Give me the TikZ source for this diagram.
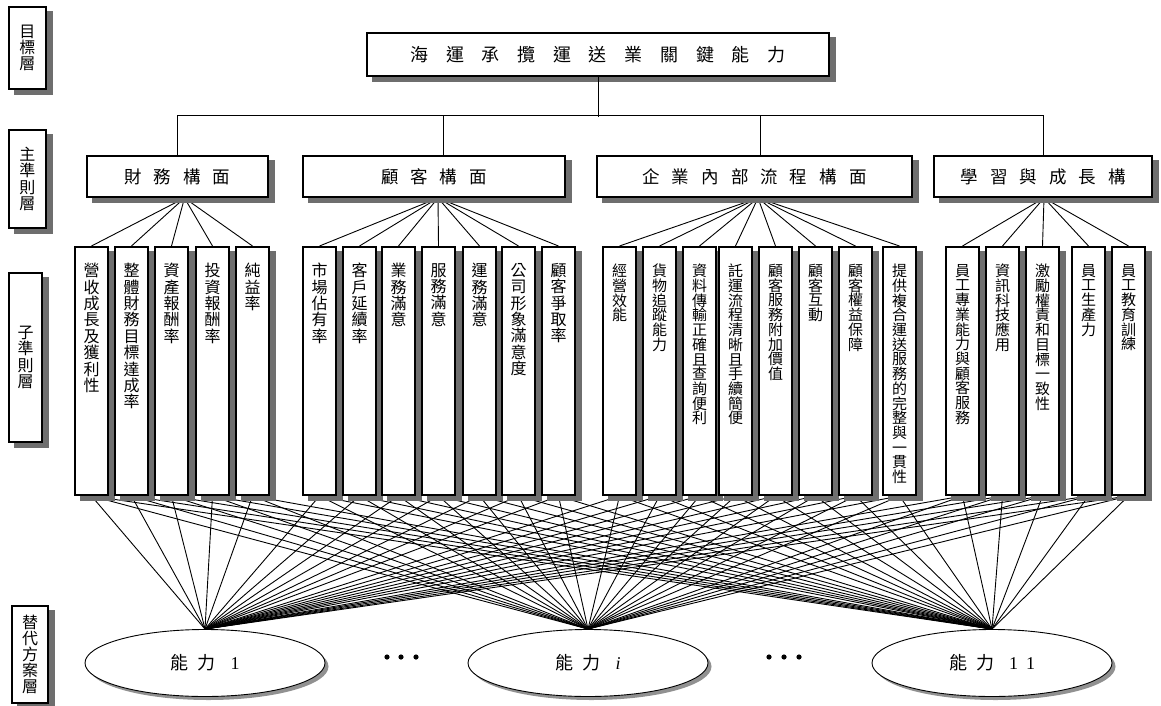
\documentclass[tikz,border=0pt]{standalone}
\usepackage{fontspec}
\setmainfont{Liberation Serif}
\newfontfamily\cjk{Noto Sans CJK TC}
\usetikzlibrary{shapes.geometric,backgrounds}

\definecolor{shadowgray}{RGB}{110,110,110}
\definecolor{ovalgray}{RGB}{145,145,145}

\makeatletter
% stack the characters of #1 one per line: build the list first, then set it
\def\vc@add#1{\ifx\vc@list\@empty\def\vc@list{#1}\else
  \expandafter\def\expandafter\vc@list\expandafter{\vc@list\\#1}\fi}
\newcommand\vchars[1]{\def\vc@list{}\@tfor\vc@c:=#1\do{\expandafter\vc@add\expandafter{\vc@c}}\vc@list}
\newcommand\vcharsx[1]{\expandafter\vchars\expandafter{#1}}
% set the characters of #2 in a row with a gap of #1 after each of them
\newcommand\gapchars[2]{\@tfor\gc@c:=#2\do{\gc@c\hspace{#1}}}
\makeatother

\tikzset{
  boxshadow/.style={fill=shadowgray},
  ovalshadow/.style={fill=ovalgray},
  lvlbox/.style={draw,line width=1.6pt,fill=white,inner sep=0pt,align=center,
    font=\cjk\fontsize{16}{16.2}\selectfont},
  goalbox/.style={draw,line width=2pt,fill=white,minimum width=462pt,minimum height=43pt,
    inner sep=0pt,font=\cjk\fontsize{18}{18}\selectfont},
  critbox/.style={draw,line width=2pt,fill=white,minimum height=41pt,inner sep=0pt,
    font=\cjk\fontsize{17.5}{17.5}\selectfont},
  subbox/.style={draw,line width=2pt,fill=white,minimum width=33pt,minimum height=248pt,
    inner sep=0pt,anchor=north west},
  subtxtA/.style={anchor=north,inner sep=0pt,align=center,font=\cjk\fontsize{16}{16.4}\selectfont},
  subtxtB/.style={anchor=north,inner sep=0pt,align=center,font=\cjk\fontsize{15}{14.7}\selectfont},
  altbox/.style={ellipse,draw,line width=0.9pt,fill=white,minimum width=240pt,minimum height=67pt,
    inner sep=0pt,font=\fontsize{18}{18}\selectfont},
  link/.style={line width=0.9pt},
}

\begin{document}
\begin{tikzpicture}[x=1pt,y=-1pt]
\useasboundingbox (0,0) rectangle (1161,706);

% level labels on the left
\node[lvlbox,minimum width=37pt,minimum height=82pt] (L1) at (27.5,48) {\vchars{目標層}};
\node[lvlbox,minimum width=37pt,minimum height=98pt] (L2) at (27.5,179) {\vchars{主準則層}};
\node[lvlbox,minimum width=33pt,minimum height=169pt] (L3) at (25.5,357.5) {\vchars{子準則層}};
\node[lvlbox,minimum width=36pt,minimum height=97pt] (L4) at (30,654.5) {\vchars{替代方案層}};

% goal
\node[goalbox] (goal) at (598,54.5) {\gapchars{17.7pt}{海運承攬運送業關鍵能力}};

% main criteria
\node[critbox,minimum width=181pt] (cf) at (177.5,176.5) {\gapchars{12pt}{財務構面}};
\node[critbox,minimum width=262pt] (cc) at (434,176.5) {\gapchars{12pt}{顧客構面}};
\node[critbox,minimum width=315pt] (cp) at (754.5,176.5) {\gapchars{12pt}{企業內部流程構面}};
\node[critbox,minimum width=218pt] (cl) at (1043,176.5) {\gapchars{12pt}{學習與成長構}};

% where the connector fans leave the criteria boxes
\coordinate (cfb) at ([xshift=7pt]cf.south);
\coordinate (ccb) at ([xshift=4pt]cc.south);
\coordinate (cpb) at ([xshift=3.5pt]cp.south);
\coordinate (clb) at ([xshift=1pt]cl.south);

% goal to criteria
\coordinate (bus) at ([yshift=40pt]cf.north);
\draw[link] (goal.south) -- ++(0,40);
\draw[link] (cf.north) -- (bus) -| (cl.north);
\draw[link] ([xshift=9pt]cc.north) -- ++(0,-40);
\draw[link] ([xshift=5.5pt]cp.north) -- ++(0,-40);

% sub-criteria
\foreach \n/\x/\lab in {f1/74/營收成長及獲利性,f2/114/整體財務目標達成率,f3/154/資產報酬率,
    f4/195/投資報酬率,f5/235/純益率,
    k1/302/市場佔有率,k2/342/客戶延續率,k3/381/業務滿意,k4/421/服務滿意,k5/462/運務滿意,
    k6/501/公司形象滿意度,k7/541/顧客爭取率}{
  \node[subbox] (\n) at (\x,246) {};
  \node[subtxtA] (\n t) at ([yshift=-17pt]\n.north) {\vcharsx\lab};
}
\foreach \n/\x/\lab in {p1/602/經營效能,p2/642/貨物追蹤能力,p3/682/資料傳輸正確且查詢便利,
    p4/718/託運流程清晰且手續簡便,p5/758/顧客服務附加價值,p6/798/顧客互動,p7/838/顧客權益保障,
    p8/882/提供複合運送服務的完整與一貫性,
    l1/945/員工專業能力與顧客服務,l2/985/資訊科技應用,l3/1025/激勵權責和目標一致性,
    l4/1071/員工生產力,l5/1111/員工教育訓練}{
  \node[subbox] (\n) at (\x,246) {};
  \node[subtxtB] (\n t) at ([yshift=-18pt]\n.north) {\vcharsx\lab};
}

% alternatives
\node[altbox] (a1) at (205,663) {{\cjk 能\hspace{9pt}力}\hspace{15pt}1};
\node[altbox] (ai) at (588,663) {{\cjk 能\hspace{9pt}力}\hspace{15pt}\textit{i}};
\node[altbox] (a11) at (992,663) {{\cjk 能\hspace{9pt}力}\hspace{15pt}1\hspace{8pt}1};

\fill (387,657) circle (2.6pt) (401,657) circle (2.6pt) (416,657) circle (2.6pt);
\fill (769,657) circle (2.6pt) (784,657) circle (2.6pt) (799,657) circle (2.6pt);

\begin{scope}[on background layer]
  % connectors
  \foreach \n in {f1,f2,f3,f4,f5} \draw[link] (cfb) -- (\n.north);
  \foreach \n in {k1,k2,k3,k4,k5,k6,k7} \draw[link] (ccb) -- (\n.north);
  \foreach \n in {p1,p2,p3,p4,p5,p6,p7,p8} \draw[link] (cpb) -- (\n.north);
  \foreach \n in {l1,l2,l3,l4,l5} \draw[link] (clb) -- (\n.north);
  \foreach \n in {f1,f2,f3,f4,f5,k1,k2,k3,k4,k5,k6,k7,p1,p2,p3,p4,p5,p6,p7,p8,l1,l2,l3,l4,l5}
    \foreach \a in {a1,ai,a11} \draw[link] (\n.south) -- (\a.north);
  % drop shadows
  \foreach \n in {L1,L2,L3,L4,goal,cf,cc,cp,cl,
      f1,f2,f3,f4,f5,k1,k2,k3,k4,k5,k6,k7,p1,p2,p3,p4,p5,p6,p7,p8,l1,l2,l3,l4,l5}
    \path[boxshadow] ([xshift=6pt,yshift=-5pt]\n.south west) rectangle ([xshift=6pt,yshift=-5pt]\n.north east);
  \foreach \a in {a1,ai,a11}
    \path[ovalshadow] ([xshift=3.5pt,yshift=-3.5pt]\a.center) ellipse [x radius=120pt,y radius=33.5pt];
\end{scope}
\end{tikzpicture}
\end{document}
